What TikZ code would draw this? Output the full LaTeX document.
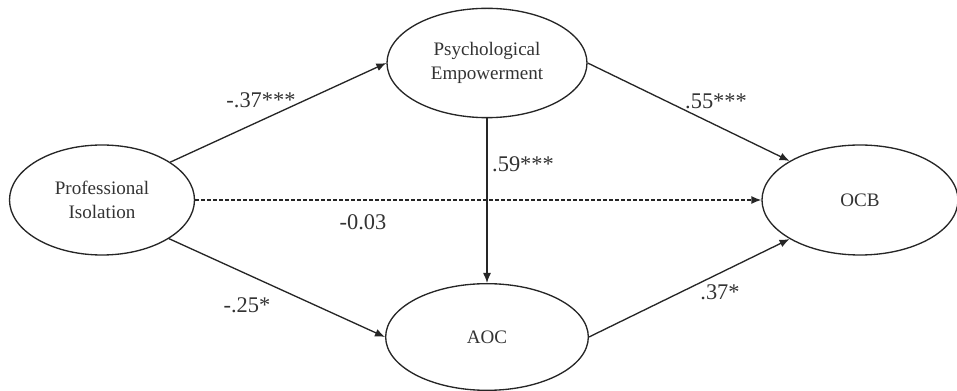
\documentclass[tikz,border=0pt]{standalone}
\usepackage{fontspec}
\setmainfont{Liberation Serif}
\usetikzlibrary{shapes.geometric,arrows.meta}
\begin{document}
\begin{tikzpicture}[x=0.75pt,y=-0.75pt,
  latent/.style={ellipse,draw=black!85,line width=1pt,inner sep=0pt,align=center,
    text=black!80,font=\fontsize{14.3}{17.5}\selectfont},
  lab/.style={text=black!80,font=\fontsize{16.8}{20}\selectfont,inner sep=0pt},
  path/.style={draw=black!85,line width=1pt,-{Latex[length=7.5pt,width=6pt]}},
  dpath/.style={path,dash pattern=on 3pt off 1.5pt}]
\useasboundingbox (0,0) rectangle (957,391);
\node[latent,minimum width=138.75pt,minimum height=82.5pt] (PI) at (102,200) {Professional\\Isolation};
\node[latent,minimum width=150pt,minimum height=82pt] (PE) at (487,63) {Psychological\\Empowerment};
\node[latent,minimum width=152pt,minimum height=80pt] (AOC) at (487,337) {AOC};
\node[latent,minimum width=147pt,minimum height=82.5pt] (OCB) at (860,200) {OCB};
\draw[path] (PI.29) -- (PE.west);
\draw[path] (PI.-30) -- (AOC.west);
\draw[dpath] (PI.east) -- (OCB.west);
\draw[path] (PE.south) -- (AOC.north);
\draw[path] (PE.east) -- (OCB.151);
\draw[path] (AOC.east) -- (OCB.209);
\node[lab] (l1) at (261,100) {-.37***};
\node[lab] (l2) at (523,164) {.59***};
\node[lab] (l3) at (363,222) {-0.03};
\node[lab] (l4) at (247,305) {-.25*};
\node[lab] (l5) at (716,101) {.55***};
\node[lab] (l6) at (720,292) {.37*};
\end{tikzpicture}
\end{document}
